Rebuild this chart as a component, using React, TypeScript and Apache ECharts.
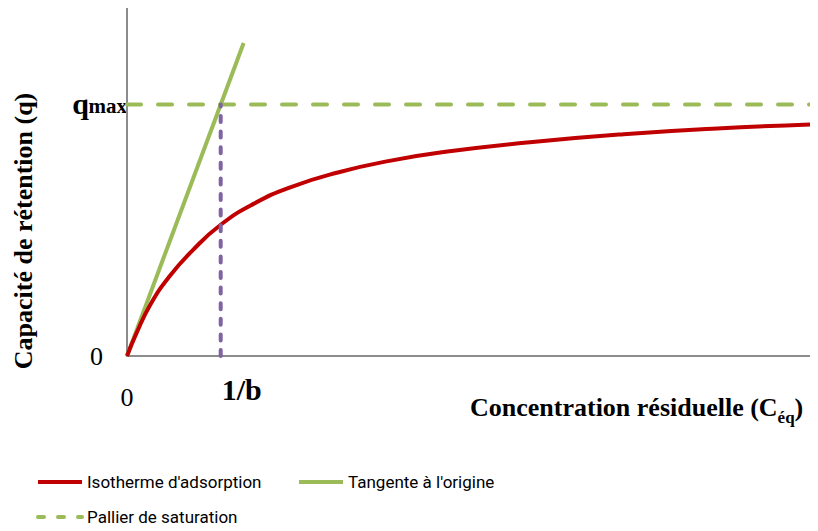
import React, { useEffect, useRef } from "react";
import * as echarts from "echarts";

// Concentration axis in units of 1/b, capacity axis in units of q_max
const X_MAX = 7.375;
const Y_MAX = 1.396;
const Q_MAX = 1;
const INV_B = 1;

// Isotherme d'adsorption (C, q) points
const isothermC = [0, 0.1, 0.25, 0.45, 0.7, 1.0, 1.35, 1.75, 2.25, 2.8, 3.4, 4.3, 5.3, 6.3, 7.375];
const isothermQ = [0, 0.09, 0.205, 0.315, 0.42, 0.522, 0.605, 0.672, 0.73, 0.776, 0.812, 0.85, 0.882, 0.905, 0.922];

// Tangente à l'origine: q = C (slope q_max·b)
const tangentC = [0, 1.245];
const tangentQ = [0, 1.245];

const SERIF = "'Liberation Serif', 'Times New Roman', serif";
const SANS = "Roboto, 'Liberation Sans', sans-serif";

const RED = "#C00000";
const GREEN = "#9BBB59";
const PURPLE = "#8064A2";
const AXIS = "#8C8C8C";

export default function App() {
  const ref = useRef<HTMLDivElement>(null);

  useEffect(() => {
    if (!ref.current) return;
    const chart = echarts.init(ref.current, undefined, { renderer: "svg" });

    const iso = isothermC.map((c, i) => [c, isothermQ[i]]);
    const tan = tangentC.map((c, i) => [c, tangentQ[i]]);
    const plateau = [[0, Q_MAX], [X_MAX, Q_MAX]];
    const invB = [[INV_B, 0], [INV_B, Q_MAX]];

    const legendText = { fontFamily: SANS, fontSize: 17, color: "#000", lineHeight: 24 };
    const legendBase = {
      itemWidth: 44,
      itemHeight: 24,
      itemGap: 5,
      padding: 0,
      textStyle: legendText,
      itemStyle: { opacity: 0 },
    };

    chart.setOption({
      animation: false,
      grid: { left: 127, top: 5, right: 0, bottom: 175, containLabel: false },
      xAxis: {
        type: "value",
        min: 0,
        max: X_MAX,
        axisLine: { show: true, lineStyle: { color: AXIS, width: 2 } },
        axisTick: { show: false },
        axisLabel: { show: false },
        splitLine: { show: false },
      },
      yAxis: {
        type: "value",
        min: 0,
        max: Y_MAX,
        axisLine: { show: true, lineStyle: { color: AXIS, width: 2 } },
        axisTick: { show: false },
        axisLabel: { show: false },
        splitLine: { show: false },
      },
      legend: [
        {
          ...legendBase,
          left: 36,
          top: 470,
          data: ["Isotherme d'adsorption"],
          lineStyle: { width: 4, color: RED },
        },
        {
          ...legendBase,
          left: 297,
          top: 470,
          data: ["Tangente à l'origine"],
          lineStyle: { width: 4, color: GREEN },
        },
        {
          ...legendBase,
          left: 36,
          top: 505,
          data: ["Pallier de saturation"],
          lineStyle: { width: 4, color: GREEN, type: [6, 14], cap: "round" },
        },
      ],
      series: [
        {
          name: "Tangente à l'origine",
          type: "line",
          data: tan,
          symbol: "none",
          color: GREEN,
          lineStyle: { color: GREEN, width: 4 },
          z: 2,
        },
        {
          name: "Isotherme d'adsorption",
          type: "line",
          data: iso,
          smooth: 0.5,
          symbol: "none",
          color: RED,
          lineStyle: { color: RED, width: 4 },
          z: 3,
        },
        {
          name: "Pallier de saturation",
          type: "line",
          data: plateau,
          symbol: "none",
          color: GREEN,
          lineStyle: { color: GREEN, width: 4, type: [14, 17], cap: "round" },
          z: 2,
        },
        {
          name: "1/b",
          type: "line",
          data: invB,
          symbol: "none",
          color: PURPLE,
          lineStyle: { color: PURPLE, width: 4, type: [6, 9.6], cap: "round" },
          z: 4,
        },
      ],
    });

    const px = (x: number, y: number) =>
      chart.convertToPixel({ xAxisIndex: 0, yAxisIndex: 0 }, [x, y]) as number[];
    const o = px(0, 0);
    const q = px(0, Q_MAX);
    const b = px(INV_B, 0);

    chart.setOption({
      graphic: [
        {
          type: "text",
          x: o[0] - 24,
          y: o[1],
          style: { text: "0", font: `26px ${SERIF}`, fill: "#000", align: "right", verticalAlign: "middle" },
        },
        {
          type: "text",
          x: o[0],
          y: o[1] + 41,
          style: { text: "0", font: `26px ${SERIF}`, fill: "#000", align: "center", verticalAlign: "middle" },
        },
        {
          type: "text",
          x: b[0] + 1,
          y: o[1] + 33,
          style: { text: "1/b", font: `bold 30px ${SERIF}`, fill: "#000", align: "left", verticalAlign: "middle" },
        },
        {
          type: "text",
          x: q[0] - 38,
          y: q[1] - 1,
          style: { text: "q", font: `bold 30px ${SERIF}`, fill: "#000", align: "right", verticalAlign: "middle" },
        },
        {
          type: "text",
          x: q[0],
          y: q[1] + 1,
          style: { text: "max", font: `bold 21px ${SERIF}`, fill: "#000", align: "right", verticalAlign: "middle" },
        },
        {
          type: "text",
          x: 470,
          y: 407,
          style: {
            text: "{t|Concentration résiduelle (C}{s|éq}{t|)}",
            fill: "#000",
            align: "left",
            verticalAlign: "middle",
            rich: {
              t: { font: `bold 26px ${SERIF}`, fill: "#000", lineHeight: 30 },
              s: { font: `bold 17px ${SERIF}`, fill: "#000", lineHeight: 22, verticalAlign: "bottom", padding: [0, 0, -4, 0] },
            },
          },
        },
        {
          type: "text",
          x: 23,
          y: 231,
          rotation: Math.PI / 2,
          style: {
            text: "Capacité de rétention (q)",
            font: `bold 26px ${SERIF}`,
            fill: "#000",
            align: "center",
            verticalAlign: "middle",
          },
        },
      ],
    });

    return () => chart.dispose();
  }, []);

  return <div ref={ref} style={{ width: 818, height: 531, margin: -8 }} />;
}
